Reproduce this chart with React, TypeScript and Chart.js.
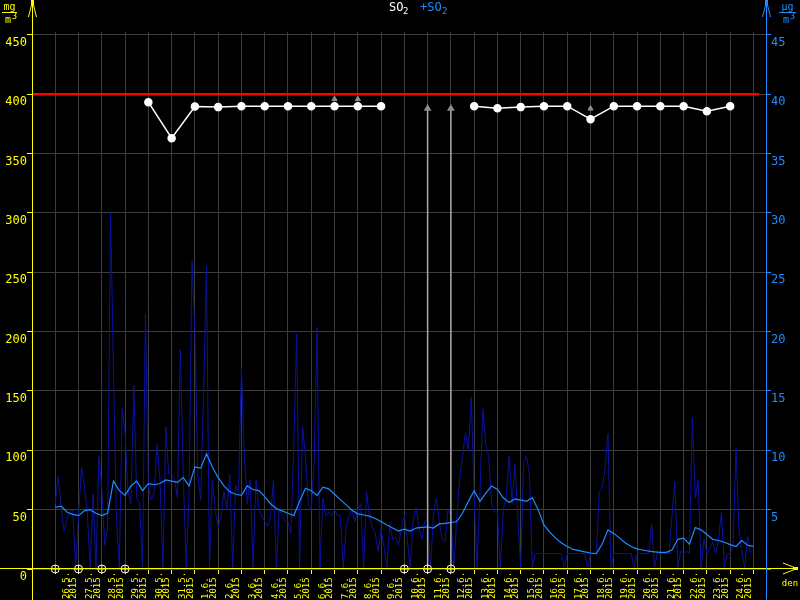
import React, { useEffect, useRef } from 'react';
import { Chart, registerables } from 'chart.js';

Chart.register(...registerables);

// ---- categories / tick labels ----
const dayLabels = ['26.5.', '27.5.', '28.5.', '29.5.', '30.5.', '31.5.', '1.6.', '2.6.', '3.6.', '4.6.', '5.6.', '6.6.', '7.6.', '8.6.', '9.6.', '10.6.', '11.6.', '12.6.', '13.6.', '14.6.', '15.6.', '16.6.', '17.6.', '18.6.', '19.6.', '20.6.', '21.6.', '22.6.', '23.6.', '24.6.'];
const yearLabel = '2015';
const leftTicks = [0, 50, 100, 150, 200, 250, 300, 350, 400, 450];
const rightTicks = [0, 5, 10, 15, 20, 25, 30, 35, 40, 45];

// ---- limit line (left axis) ----
const limitValue = 400;
const limitSpan = [-1, 30.25];

// ---- daily means (left axis, white), one per day, null = missing ----
const dailyMean = [null, null, null, null, 393.4, 363, 389.7, 389.2, 390, 390, 390, 390, 390, 390, 390, null, null, null, 390, 388.3, 389.2, 390, 390, 379, 390, 390, 390, 390, 385.8, 390];

// ---- raw values (right axis, navy), 8 per day ----
const rawByDay = [
  [5.5, 7.8, 5.2, 3.2, 4.2, 4.8, 5.0, 0.1],
  [4.5, 8.6, 7.0, 4.8, 0.1, 6.3, 0.1, 9.5],
  [6.8, 2.0, 3.5, 30.0, 17.0, 4.5, 0.1, 13.5],
  [11.5, 6.5, 5.5, 15.5, 6.0, 5.5, 0.1, 21.5],
  [7.0, 5.8, 6.5, 10.5, 7.5, 0.1, 12.0, 8.0],
  [8.0, 7.5, 6.0, 18.5, 8.0, 0.1, 6.5, 26.0],
  [20.0, 8.0, 5.8, 15.0, 25.5, 0.1, 7.5, 5.0],
  [3.5, 4.5, 6.5, 5.0, 8.0, 0.1, 7.0, 6.5],
  [17.0, 9.5, 5.5, 7.5, 0.1, 7.5, 5.0, 4.5],
  [4.0, 3.6, 4.5, 7.5, 0.1, 5.0, 4.5, 4.0],
  [4.0, 3.0, 10.5, 19.8, 0.1, 12.0, 9.5, 5.5],
  [5.0, 9.0, 20.3, 0.1, 6.0, 4.5, 4.8, 4.5],
  [5.0, 4.5, 4.5, 0.1, 3.6, 4.5, 5.0, 4.0],
  [5.0, 5.5, 0.1, 6.5, 4.5, 3.5, 3.0, 1.5],
  [3.3, 1.9, 0.1, 3.8, 2.5, 2.7, 2.0, 3.5],
  [4.5, 2.5, 0.1, 4.0, 5.2, 3.5, 2.5, 4.0],
  [4.2, 0.1, 4.5, 6.0, 4.0, 2.5, 2.3, 5.0],
  [4.5, 0.1, 4.2, 7.5, 9.5, 11.5, 10.0, 14.5],
  [6.0, 0.1, 6.5, 13.5, 10.5, 9.5, 5.5, 4.8],
  [4.8, 0.1, 5.0, 6.0, 9.5, 5.5, 8.8, 4.5],
  [0.1, 9.0, 9.5, 8.0, 0.1, 1.3, 1.3, 1.3],
  [1.3, 1.3, 1.3, 1.3, 1.3, 1.3, 1.3, 0.1],
  [1.3, 1.3, 1.3, 1.3, 1.3, 1.3, 1.3, 0.1],
  [1.3, 1.3, 1.3, 6.5, 6.8, 8.5, 11.4, 0.1],
  [1.3, 1.3, 1.3, 1.3, 1.3, 1.3, 1.3, 0.1],
  [1.3, 1.3, 1.3, 1.3, 1.3, 3.8, 0.1, 1.4],
  [1.3, 1.3, 1.3, 1.3, 4.5, 7.4, 0.1, 1.5],
  [1.3, 1.5, 1.3, 12.8, 6.0, 7.5, 0.1, 2.5],
  [1.3, 1.7, 2.3, 1.3, 2.5, 4.8, 0.1, 1.3],
  [1.3, 2.0, 10.2, 3.5, 1.5, 0.1, 2.8, 1.3],
];
const rawPerDay = 8;

// ---- running average (right axis, light blue), 4 per day ----
const runningAvg = [
  5.2, 5.3, 4.8, 4.6,
  4.5, 4.9, 5.0, 4.7,
  4.5, 4.7, 7.4, 6.6,
  6.2, 7.0, 7.4, 6.6,
  7.2, 7.1, 7.2, 7.5,
  7.4, 7.3, 7.7, 7.0,
  8.6, 8.5, 9.7, 8.6,
  7.7, 7.0, 6.5, 6.3,
  6.2, 7.0, 6.7, 6.6,
  6.1, 5.5, 5.1, 4.9,
  4.7, 4.5, 5.7, 6.8,
  6.6, 6.2, 6.9, 6.75,
  6.3, 5.85, 5.4, 4.95,
  4.65, 4.55, 4.45, 4.25,
  4.0, 3.7, 3.45, 3.2,
  3.35, 3.2, 3.45, 3.5,
  3.55, 3.45, 3.8, 3.85,
  3.9, 4.0, 4.7, 5.7,
  6.6, 5.7, 6.4, 7.0,
  6.7, 6.0, 5.6, 5.9,
  5.8, 5.7, 6.0, 5.0,
  3.7, 3.1, 2.6, 2.2,
  1.9, 1.65, 1.55, 1.45,
  1.35, 1.3, 2.1, 3.3,
  3.0, 2.6, 2.2, 1.9,
  1.7, 1.6, 1.5, 1.45,
  1.4, 1.4, 1.6, 2.5,
  2.6, 2.1, 3.5, 3.3,
  2.9, 2.5, 2.4, 2.25,
  2.05, 1.9, 2.4, 2.0,
  1.9,
];
const avgPerDay = 4;

// ---- overflow indicators (left axis, grey) ----
const overflowDays = [16, 17];
const overflowTop = 388;
const flagDays = [12, 13, 23];
const flagValues = [396, 396, 388];

const YELLOW = '#ffff00';
const BLUE = '#1e8cff';
const NAVY = '#0a12a0';
const GRID = '#3c3c3c';
const MONO = '"DejaVu Sans Mono", monospace';

const decorPlugin = {
  id: 'decor',
  beforeDraw(chart: any) {
    const { ctx, width, height } = chart;
    ctx.save();
    ctx.fillStyle = '#000';
    ctx.fillRect(0, 0, width, height);
    ctx.restore();
  },
  afterDraw(chart: any) {
    const { ctx, chartArea, scales, height } = chart;
    const xS = scales.x;
    const xl = Math.round(chartArea.left) + 0.5;
    const xr = Math.round(chartArea.right) + 0.5;
    const yb = Math.round(chartArea.bottom) - 0.5;
    ctx.save();
    ctx.lineWidth = 1;

    // left axis (yellow)
    ctx.strokeStyle = YELLOW;
    ctx.fillStyle = YELLOW;
    ctx.beginPath();
    ctx.moveTo(xl, 0); ctx.lineTo(xl, height);
    ctx.moveTo(xl, 1); ctx.lineTo(xl - 4, 17);
    ctx.moveTo(xl, 1); ctx.lineTo(xl + 4, 17);
    ctx.stroke();
    ctx.fillRect(xl - 1.5, 0, 3, 5);

    // x axis (yellow)
    ctx.beginPath();
    ctx.moveTo(0, yb); ctx.lineTo(796, yb);
    ctx.moveTo(783, yb - 5.5); ctx.lineTo(797, yb);
    ctx.moveTo(783, yb + 5.5); ctx.lineTo(797, yb);
    ctx.stroke();
    ctx.fillRect(793, yb - 1.5, 5, 3);

    // right axis (blue)
    ctx.strokeStyle = BLUE;
    ctx.fillStyle = BLUE;
    ctx.beginPath();
    ctx.moveTo(xr, 0); ctx.lineTo(xr, height);
    ctx.moveTo(xr, 1); ctx.lineTo(xr - 4, 17);
    ctx.moveTo(xr, 1); ctx.lineTo(xr + 4, 17);
    ctx.stroke();
    ctx.fillRect(xr - 1.5, 0, 3, 5);

    // units
    ctx.textBaseline = 'middle';
    ctx.textAlign = 'center';
    ctx.fillStyle = YELLOW;
    ctx.font = `10px ${MONO}`;
    ctx.fillText('mg', 9.5, 7);
    ctx.fillRect(2, 12, 15, 1);
    ctx.fillText('m', 8, 20);
    ctx.font = `9px ${MONO}`;
    ctx.fillText('3', 14.5, 16.5);
    ctx.fillStyle = BLUE;
    ctx.font = `10px ${MONO}`;
    ctx.fillText('\u00b5g', 787.5, 7);
    ctx.fillRect(779, 12, 17, 1);
    ctx.fillText('m', 786, 20);
    ctx.font = `9px ${MONO}`;
    ctx.fillText('3', 792.5, 16.5);

    // title
    ctx.textAlign = 'left';
    ctx.font = `12px ${MONO}`;
    ctx.fillStyle = '#ffffff';
    ctx.fillText('SO', 389, 8);
    ctx.font = `9px ${MONO}`;
    ctx.fillText('2', 403, 12);
    ctx.font = `12px ${MONO}`;
    ctx.fillStyle = BLUE;
    ctx.fillText('+SO', 420, 8);
    ctx.font = `9px ${MONO}`;
    ctx.fillText('2', 442, 12);

    // x tick labels (rotated, two lines)
    ctx.fillStyle = YELLOW;
    ctx.font = `9px ${MONO}`;
    dayLabels.forEach((lab, i) => {
      const cx = xS.getPixelForValue(i + 0.5);
      [[lab, cx - 0.3], [yearLabel, cx + 7.4]].forEach(([t, px]: any) => {
        ctx.save();
        ctx.translate(Math.round(px), height - 1);
        ctx.rotate(-Math.PI / 2);
        ctx.textAlign = 'left';
        ctx.textBaseline = 'middle';
        ctx.fillText(t, 0, 0);
        ctx.restore();
      });
    });
    ctx.textAlign = 'center';
    ctx.fillText('den', 790, 584);
    ctx.restore();
  },
};

export default function App() {
  const ref = useRef<HTMLCanvasElement | null>(null);

  useEffect(() => {
    if (!ref.current) return;

    const rawData = rawByDay.flatMap((row, d) => row.map((v, k) => ({ x: d + k / rawPerDay, y: v })));
    const avgData = runningAvg.map((v, i) => ({ x: i / avgPerDay, y: v }));
    const meanData = dailyMean.map((v, d) => ({ x: d, y: v }));
    const missing = dailyMean.map((v, d) => (v === null ? { x: d, y: 0 } : null)).filter(Boolean);
    const overflowData: any[] = [];
    overflowDays.forEach((d) => {
      overflowData.push({ x: d, y: 0 }, { x: d, y: overflowTop }, { x: d, y: null });
    });
    const flagData = flagDays.map((d, i) => ({ x: d, y: flagValues[i] }));
    const limitData = limitSpan.map((x) => ({ x, y: limitValue }));

    const chart = new Chart(ref.current, {
      type: 'line',
      data: {
        datasets: [
          {
            label: 'missing-cross', data: missing as any, yAxisID: 'y', showLine: false,
            pointStyle: 'cross', pointRadius: 4, borderColor: '#ffffdd', borderWidth: 1, clip: false as any, order: 0,
          },
          {
            label: 'missing', data: missing as any, yAxisID: 'y', showLine: false,
            pointStyle: 'circle', pointRadius: 4, backgroundColor: '#000', borderColor: '#ffffdd', borderWidth: 1, clip: false as any, order: 1,
          },
          {
            label: 'flags', data: flagData, yAxisID: 'y', showLine: false, pointStyle: 'triangle',
            pointRadius: 3, backgroundColor: '#8c8c8c', borderColor: '#8c8c8c', order: 2,
          },
          {
            label: 'SO2', data: meanData as any, yAxisID: 'y', borderColor: '#ffffff', borderWidth: 1.5,
            pointRadius: 3.5, pointBackgroundColor: '#ffffff', pointBorderColor: '#ffffff', spanGaps: false, order: 3,
          },
          {
            label: 'overflow', data: overflowData, yAxisID: 'y', borderColor: '#a8a8a8', borderWidth: 1.5,
            pointStyle: 'triangle', pointBackgroundColor: '#8c8c8c', pointBorderColor: '#8c8c8c',
            pointRadius: (c: any) => (c.raw && c.raw.y > 0 ? 3 : 0), spanGaps: false, order: 4,
          },
          {
            label: 'limit', data: limitData, yAxisID: 'y', borderColor: '#ff0000', borderWidth: 2.5, pointRadius: 0, order: 5,
          },
          {
            label: '+SO2 avg', data: avgData, yAxisID: 'y1', borderColor: BLUE, borderWidth: 1.2, pointRadius: 0, order: 6,
          },
          {
            label: '+SO2', data: rawData, yAxisID: 'y1', borderColor: NAVY, borderWidth: 1, pointRadius: 0, order: 7,
          },
        ],
      },
      options: {
        responsive: false,
        animation: false,
        events: [],
        layout: { padding: { top: 32, left: 0, right: 0, bottom: 0 } },
        plugins: { legend: { display: false }, tooltip: { enabled: false }, title: { display: false } },
        scales: {
          x: {
            type: 'linear', min: -1, max: 30.54,
            afterBuildTicks: (s: any) => { s.ticks = [-1, ...dayLabels.map((_, i) => i), dayLabels.length].map((v) => ({ value: v })); },
            ticks: { display: false },
            grid: { color: GRID, tickColor: YELLOW, tickLength: 5, lineWidth: 1 },
            border: { display: false },
            afterFit: (s: any) => { s.height = 31; },
          },
          y: {
            type: 'linear', position: 'left', min: 0, max: 452.5,
            afterBuildTicks: (s: any) => { s.ticks = leftTicks.map((v) => ({ value: v })); },
            ticks: { color: YELLOW, font: { family: MONO, size: 12 }, padding: 0, labelOffset: 8, autoSkip: false },
            grid: { color: GRID, tickColor: YELLOW, tickLength: 5 },
            border: { display: false },
            afterFit: (s: any) => { s.width = 32; },
          },
          y1: {
            type: 'linear', position: 'right', min: 0, max: 45.25,
            afterBuildTicks: (s: any) => { s.ticks = rightTicks.map((v) => ({ value: v })); },
            ticks: { color: BLUE, font: { family: MONO, size: 12 }, padding: 0, labelOffset: 8, autoSkip: false,
              callback: (v: any) => (v === 0 ? '' : String(v)) },
            grid: { drawOnChartArea: false, tickColor: BLUE, tickLength: 5 },
            border: { display: false },
            afterFit: (s: any) => { s.width = 34; },
          },
        },
      } as any,
      plugins: [decorPlugin],
    });
    return () => chart.destroy();
  }, []);

  return (
    <div style={{ position: 'absolute', left: 0, top: 0, width: 800, height: 600, background: '#000' }}>
      <canvas ref={ref} width={800} height={600} style={{ display: 'block' }} />
    </div>
  );
}
